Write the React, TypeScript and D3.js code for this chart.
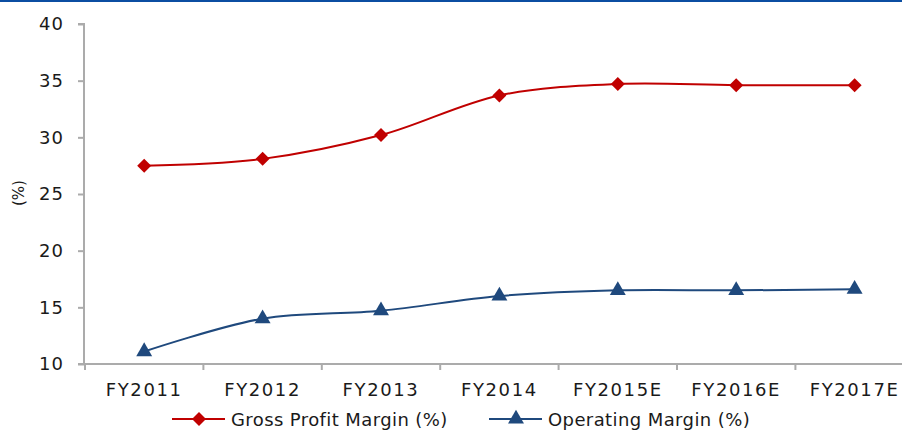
import { useRef, useEffect } from "react";
import * as d3 from "d3";

const years = ["FY2011", "FY2012", "FY2013", "FY2014", "FY2015E", "FY2016E", "FY2017E"];
const grossMargin = [27.5, 28.1, 30.2, 33.7, 34.7, 34.6, 34.6];
const operatingMargin = [11.1, 14.0, 14.7, 16.0, 16.5, 16.5, 16.6];
const yTicks = [10, 15, 20, 25, 30, 35, 40];

const RED = "#C00000";
const BLUE = "#1F497D";
const AXIS = "#ABABAB";
const FONT = "'DejaVu Sans', sans-serif";

export default function App() {
  const ref = useRef<SVGSVGElement | null>(null);

  const width = 902,
    height = 430;
  const left = 84,
    top = 24,
    bottom = 364;

  useEffect(() => {
    const svg = d3.select(ref.current);
    svg.selectAll("*").remove();

    const x = d3.scaleBand().domain(years).range([85, 85 + 7 * 118.4]);
    const y = d3.scaleLinear().domain([10, 40]).range([bottom, top]);
    const cx = (d: string) => (x(d) as number) + x.bandwidth() / 2;

    // top border
    svg.append("rect").attr("x", 0).attr("y", 0).attr("width", width).attr("height", 2).attr("fill", "#0B4EA2");

    // y axis
    const yAxis = svg
      .append("g")
      .attr("transform", `translate(${left},0)`)
      .call(d3.axisLeft(y).tickValues(yTicks).tickSize(6).tickPadding(14));
    yAxis.select(".domain").attr("stroke", AXIS).attr("stroke-width", 2).attr("d", `M-6,${top}H0V${bottom}`);
    yAxis.selectAll(".tick line").attr("stroke", AXIS).attr("stroke-width", 2);
    yAxis
      .selectAll(".tick text")
      .attr("fill", "#1a1a1a")
      .style("font-family", FONT)
      .style("font-size", "18px")
      .style("letter-spacing", "1px");

    // x axis
    svg
      .append("line")
      .attr("x1", left - 6)
      .attr("x2", width)
      .attr("y1", bottom)
      .attr("y2", bottom)
      .attr("stroke", AXIS)
      .attr("stroke-width", 2);
    svg
      .append("g")
      .selectAll("line")
      .data(years)
      .enter()
      .append("line")
      .attr("x1", (d) => x(d) as number)
      .attr("x2", (d) => x(d) as number)
      .attr("y1", bottom)
      .attr("y2", bottom + 6)
      .attr("stroke", AXIS)
      .attr("stroke-width", 2);
    svg
      .append("g")
      .selectAll("text")
      .data(years)
      .enter()
      .append("text")
      .attr("x", cx)
      .attr("y", 396)
      .attr("text-anchor", "middle")
      .attr("fill", "#1a1a1a")
      .style("font-family", FONT)
      .style("font-size", "18px")
      .style("letter-spacing", "1.6px")
      .text((d) => d);

    // y title
    svg
      .append("text")
      .attr("transform", `translate(24,193) rotate(-90)`)
      .attr("text-anchor", "middle")
      .attr("fill", "#1a1a1a")
      .style("font-family", FONT)
      .style("font-size", "15px")
      .text("(%)");

    const line = d3
      .line<number>()
      .x((_, i) => cx(years[i]))
      .y((d) => y(d))
      .curve(d3.curveCatmullRom.alpha(0.5));

    const diamond = d3.symbol().type(d3.symbolSquare).size(98);
    const triangle = d3.symbol().type(d3.symbolTriangle).size(110);

    const series = [
      { values: grossMargin, color: RED, sym: diamond, rot: 45 },
      { values: operatingMargin, color: BLUE, sym: triangle, rot: 0 },
    ];

    series.forEach((s) => {
      svg
        .append("path")
        .datum(s.values)
        .attr("fill", "none")
        .attr("stroke", s.color)
        .attr("stroke-width", 2)
        .attr("d", line);
      svg
        .append("g")
        .selectAll("path")
        .data(s.values)
        .enter()
        .append("path")
        .attr("d", s.sym() as string)
        .attr("fill", s.color)
        .attr("transform", (d, i) => `translate(${cx(years[i])},${y(d)}) rotate(${s.rot})`);
    });

    // legend
    const legend = [
      { label: "Gross Profit Margin (%)", color: RED, sym: diamond, rot: 45, x: 172 },
      { label: "Operating Margin (%)", color: BLUE, sym: triangle, rot: 0, x: 489 },
    ];
    legend.forEach((l) => {
      const g = svg.append("g").attr("transform", `translate(${l.x},419)`);
      g.append("line").attr("x1", 0).attr("x2", 53).attr("stroke", l.color).attr("stroke-width", 2);
      g.append("path")
        .attr("d", l.sym() as string)
        .attr("fill", l.color)
        .attr("transform", `translate(27,0) rotate(${l.rot})`);
      g.append("text")
        .attr("x", 59)
        .attr("y", 7)
        .attr("fill", "#1a1a1a")
        .style("font-family", FONT)
        .style("font-size", "18px")
        .style("letter-spacing", "0.4px")
        .text(l.label);
    });
  }, []);

  return (
    <svg
      ref={ref}
      width={width}
      height={height}
      style={{ position: "absolute", left: 0, top: 0, background: "#fff" }}
    />
  );
}
